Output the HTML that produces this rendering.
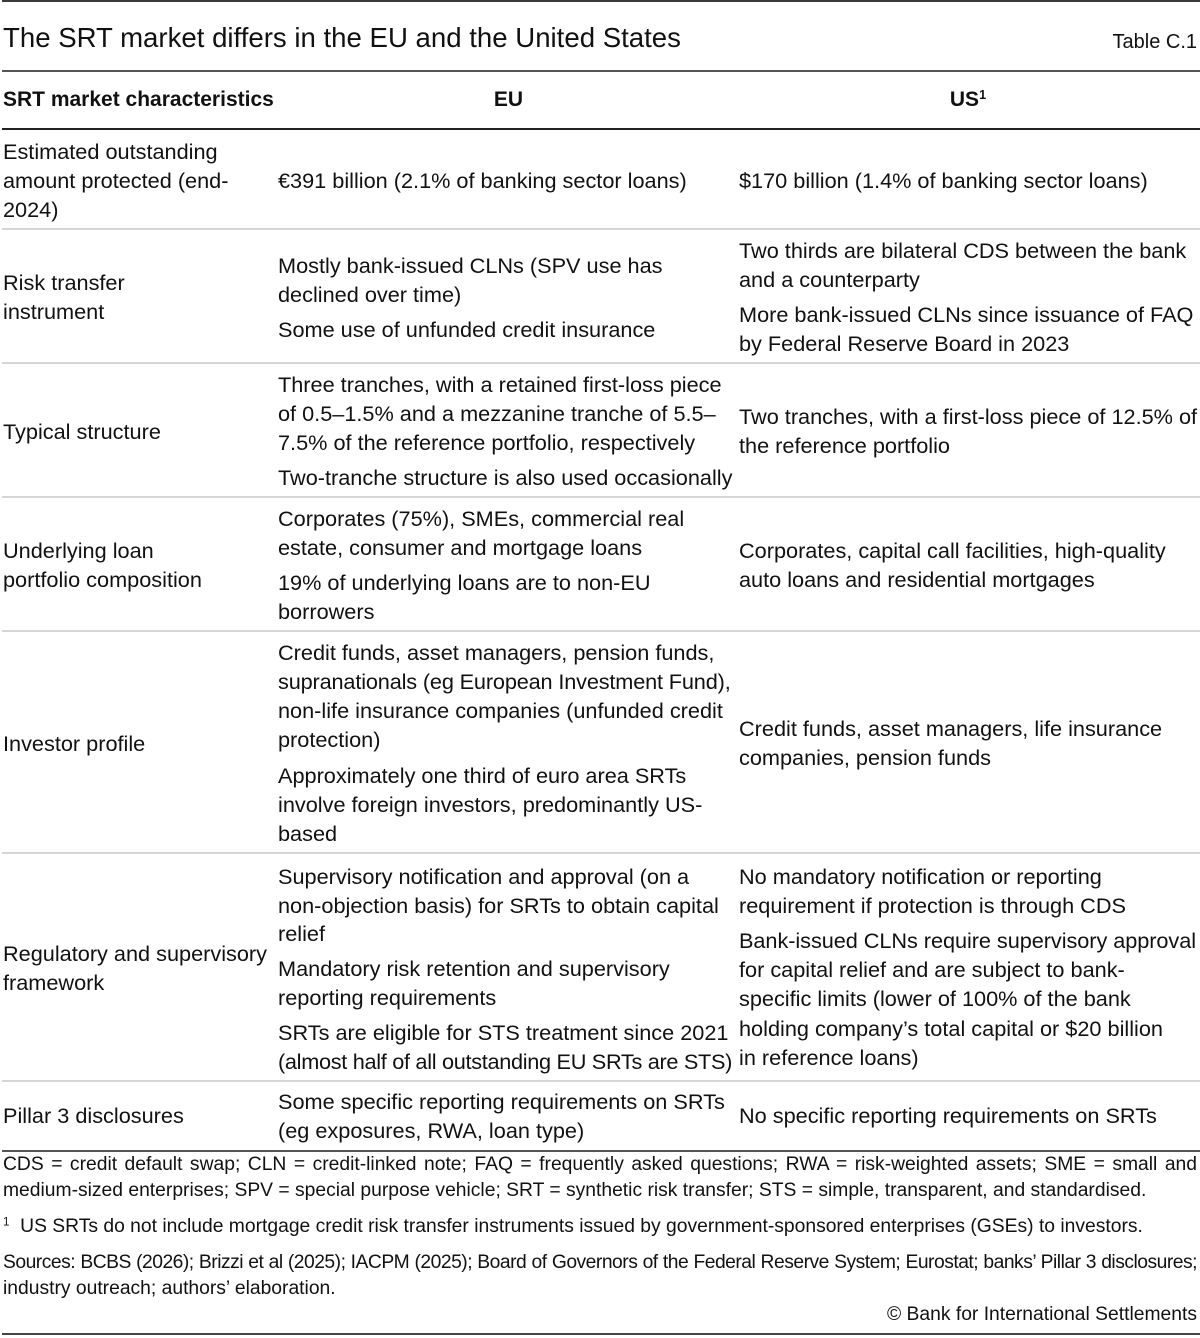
<!DOCTYPE html>
<html>
<head>
<meta charset="utf-8">
<style>
html,body{margin:0;padding:0;background:#fff;}
body{width:1200px;height:1338px;position:relative;overflow:hidden;font-family:"Liberation Sans",Arial,sans-serif;color:#111;}
.l{position:absolute;white-space:nowrap;font-size:21.7px;line-height:29.5px;height:29.5px;}
.n{position:absolute;white-space:nowrap;font-size:19.3px;line-height:26px;height:26px;}
.hr{position:absolute;left:2px;width:1198px;height:2px;}
.sep{background:#d6d6d6;}
.dk{background:#444;}
.h{position:absolute;white-space:nowrap;font-size:21px;line-height:29px;font-weight:bold;}
sup{font-size:0.6em;line-height:0;vertical-align:0.55em;}
.j{text-align:justify;text-align-last:justify;width:1194px;}
</style>
</head>
<body>

<div class="hr dk" style="top:0px;background:#3a3a3a;"></div>
<div style="position:absolute;left:3px;top:21px;font-size:27.6px;line-height:34px;white-space:nowrap;">The SRT market differs in the EU and the United States</div>
<div style="position:absolute;right:3px;top:28px;font-size:20px;line-height:28px;white-space:nowrap;">Table C.1</div>
<div class="hr" style="top:70px;background:#555;"></div>

<div class="h" style="left:3px;top:85px;">SRT market characteristics</div>
<div class="h" style="left:278px;width:461px;text-align:center;top:85px;">EU</div>
<div class="h" style="left:739px;width:458px;text-align:center;top:85px;">US<sup>1</sup></div>
<div class="hr" style="top:128px;background:#222;"></div>

<!-- Row 1 -->
<div class="l" style="left:3px;top:136.5px;">Estimated outstanding</div>
<div class="l" style="left:3px;top:165.5px;">amount protected (end-</div>
<div class="l" style="left:3px;top:194.5px;">2024)</div>
<div class="l" style="left:278px;top:165.5px;">€391 billion (2.1% of banking sector loans)</div>
<div class="l" style="left:739px;top:165.5px;">$170 billion (1.4% of banking sector loans)</div>
<div class="hr sep" style="top:228px;"></div>

<!-- Row 2 -->
<div class="l" style="left:3px;top:267.5px;">Risk transfer</div>
<div class="l" style="left:3px;top:296.5px;">instrument</div>
<div class="l" style="left:278px;top:250.5px;">Mostly bank-issued CLNs (SPV use has</div>
<div class="l" style="left:278px;top:279.5px;">declined over time)</div>
<div class="l" style="left:278px;top:314.5px;">Some use of unfunded credit insurance</div>
<div class="l" style="left:739px;top:235.5px;">Two thirds are bilateral CDS between the bank</div>
<div class="l" style="left:739px;top:264.5px;">and a counterparty</div>
<div class="l" style="left:739px;top:299.5px;">More bank-issued CLNs since issuance of FAQ</div>
<div class="l" style="left:739px;top:328.5px;">by Federal Reserve Board in 2023</div>
<div class="hr sep" style="top:362px;"></div>

<!-- Row 3 -->
<div class="l" style="left:3px;top:416.5px;">Typical structure</div>
<div class="l" style="left:278px;top:369.5px;">Three tranches, with a retained first-loss piece</div>
<div class="l" style="left:278px;top:398.5px;">of 0.5–1.5% and a mezzanine tranche of 5.5–</div>
<div class="l" style="left:278px;top:427.5px;">7.5% of the reference portfolio, respectively</div>
<div class="l" style="left:278px;top:462.5px;">Two-tranche structure is also used occasionally</div>
<div class="l" style="left:739px;top:401.5px;">Two tranches, with a first-loss piece of 12.5% of</div>
<div class="l" style="left:739px;top:430.5px;">the reference portfolio</div>
<div class="hr sep" style="top:496px;"></div>

<!-- Row 4 -->
<div class="l" style="left:3px;top:535.5px;">Underlying loan</div>
<div class="l" style="left:3px;top:564.5px;">portfolio composition</div>
<div class="l" style="left:278px;top:503.5px;">Corporates (75%), SMEs, commercial real</div>
<div class="l" style="left:278px;top:532.5px;">estate, consumer and mortgage loans</div>
<div class="l" style="left:278px;top:567.5px;">19% of underlying loans are to non-EU</div>
<div class="l" style="left:278px;top:596.5px;">borrowers</div>
<div class="l" style="left:739px;top:535.5px;">Corporates, capital call facilities, high-quality</div>
<div class="l" style="left:739px;top:564.5px;">auto loans and residential mortgages</div>
<div class="hr sep" style="top:630px;"></div>

<!-- Row 5 -->
<div class="l" style="left:3px;top:728.5px;">Investor profile</div>
<div class="l" style="left:278px;top:637.5px;">Credit funds, asset managers, pension funds,</div>
<div class="l" style="left:278px;top:666.5px;letter-spacing:-0.15px;">supranationals (eg European Investment Fund),</div>
<div class="l" style="left:278px;top:695.5px;">non-life insurance companies (unfunded credit</div>
<div class="l" style="left:278px;top:725px;">protection)</div>
<div class="l" style="left:278px;top:760.5px;">Approximately one third of euro area SRTs</div>
<div class="l" style="left:278px;top:789.5px;">involve foreign investors, predominantly US-</div>
<div class="l" style="left:278px;top:818.5px;">based</div>
<div class="l" style="left:739px;top:713.5px;">Credit funds, asset managers, life insurance</div>
<div class="l" style="left:739px;top:742.5px;">companies, pension funds</div>
<div class="hr sep" style="top:852px;"></div>

<!-- Row 6 -->
<div class="l" style="left:3px;top:938.5px;">Regulatory and supervisory</div>
<div class="l" style="left:3px;top:967.5px;">framework</div>
<div class="l" style="left:278px;top:861.5px;">Supervisory notification and approval (on a</div>
<div class="l" style="left:278px;top:890.5px;">non-objection basis) for SRTs to obtain capital</div>
<div class="l" style="left:278px;top:918.5px;">relief</div>
<div class="l" style="left:278px;top:953.5px;">Mandatory risk retention and supervisory</div>
<div class="l" style="left:278px;top:982.5px;">reporting requirements</div>
<div class="l" style="left:278px;top:1017.5px;">SRTs are eligible for STS treatment since 2021</div>
<div class="l" style="left:278px;top:1046.5px;letter-spacing:-0.3px;">(almost half of all outstanding EU SRTs are STS)</div>
<div class="l" style="left:739px;top:861.5px;">No mandatory notification or reporting</div>
<div class="l" style="left:739px;top:890.5px;">requirement if protection is through CDS</div>
<div class="l" style="left:739px;top:925.5px;letter-spacing:-0.05px;">Bank-issued CLNs require supervisory approval</div>
<div class="l" style="left:739px;top:954.5px;">for capital relief and are subject to bank-</div>
<div class="l" style="left:739px;top:984px;">specific limits (lower of 100% of the bank</div>
<div class="l" style="left:739px;top:1013.5px;">holding company’s total capital or $20 billion</div>
<div class="l" style="left:739px;top:1043px;">in reference loans)</div>
<div class="hr sep" style="top:1080px;"></div>

<!-- Row 7 -->
<div class="l" style="left:3px;top:1100.5px;">Pillar 3 disclosures</div>
<div class="l" style="left:278px;top:1086.5px;">Some specific reporting requirements on SRTs</div>
<div class="l" style="left:278px;top:1115.5px;">(eg exposures, RWA, loan type)</div>
<div class="l" style="left:739px;top:1100.5px;">No specific reporting requirements on SRTs</div>
<div class="hr" style="top:1150px;background:#555;"></div>

<!-- Notes -->
<div class="n j" style="left:3px;top:1152px;">CDS = credit default swap; CLN = credit-linked note; FAQ = frequently asked questions; RWA = risk-weighted assets; SME = small and</div>
<div class="n" style="left:3px;top:1178px;">medium-sized enterprises; SPV = special purpose vehicle; SRT = synthetic risk transfer; STS = simple, transparent, and standardised.</div>
<div class="n" style="left:3px;top:1214px;"><sup>1</sup>&nbsp; US SRTs do not include mortgage credit risk transfer instruments issued by government-sponsored enterprises (GSEs) to investors.</div>
<div class="n j" style="left:3px;top:1250px;letter-spacing:-0.5px;">Sources: BCBS (2026); Brizzi et al (2025); IACPM (2025); Board of Governors of the Federal Reserve System; Eurostat; banks’ Pillar 3 disclosures;</div>
<div class="n" style="left:3px;top:1276px;">industry outreach; authors’ elaboration.</div>
<div class="n" style="right:3px;top:1302px;">© Bank for International Settlements</div>
<div class="hr" style="top:1333px;background:#444;"></div>

</body>
</html>
